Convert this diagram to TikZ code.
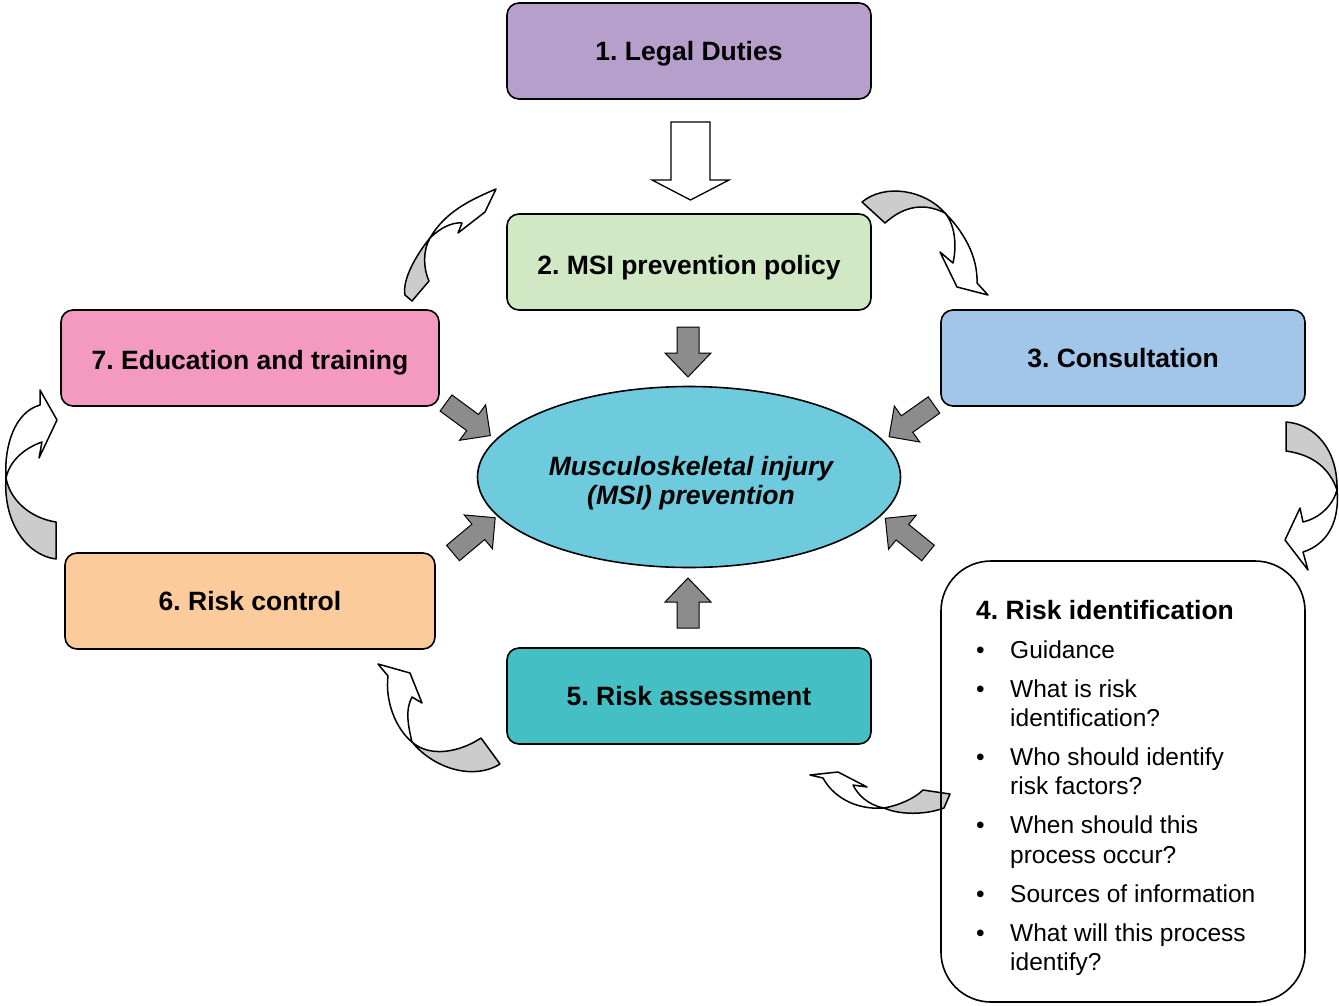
\documentclass[tikz,border=0pt]{standalone}
\usepackage{fontspec}
\setmainfont{Liberation Sans}
\usetikzlibrary{shapes.geometric}
\definecolor{cLegal}{HTML}{B79FCB}
\definecolor{cPolicy}{HTML}{D1E8C4}
\definecolor{cConsult}{HTML}{A2C6EA}
\definecolor{cEdu}{HTML}{F49AC1}
\definecolor{cControl}{HTML}{FCCB9C}
\definecolor{cAssess}{HTML}{44C0C4}
\definecolor{cCore}{HTML}{6DCBDD}
\definecolor{cBlock}{HTML}{8C8C8C}
\definecolor{cBack}{HTML}{CCCCCC}
\frenchspacing
\begin{document}
\begin{tikzpicture}[x=1pt,y=-1pt,
  stepbox/.style={draw, line width=1.6pt, rounded corners=12pt,
    minimum width=364pt, minimum height=96pt, inner sep=0pt,
    text height=19pt, text depth=0pt,
    font=\fontsize{26.5}{29}\selectfont\bfseries},
  itemtext/.style={anchor=base west, inner sep=0pt,
    font=\fontsize{24.5}{29}\selectfont},
  dot/.style={anchor=base west, inner sep=0pt,
    font=\fontsize{24.5}{29}\selectfont},
  blockarrow/.style={draw, line width=1pt, fill=cBlock, line join=miter},
  hollowarrow/.style={draw, line width=1.3pt, fill=white},
  turnfront/.style={draw, line width=1.5pt, fill=white, line join=round},
  turnback/.style={draw, line width=1.5pt, fill=cBack, line join=round}]

\useasboundingbox (0,0) rectangle (1339,1005);

% ---- step boxes ----
\node[stepbox, fill=cLegal] (legal) at (689,51) {1. Legal Duties};
\node[stepbox, fill=cPolicy] (policy) at (689,262) {\raisebox{-3pt}{2. MSI prevention policy}};
\node[stepbox, fill=cConsult] (consult) at (1123,358) {3. Consultation};
\node[stepbox, fill=cEdu, minimum width=378pt] (edu) at (250,358) {\raisebox{-2pt}{7. Education and training}};
\node[stepbox, fill=cControl, minimum width=370pt] (control) at (250,601) {6. Risk control};
\node[stepbox, fill=cAssess] (assess) at (689,696) {5. Risk assessment};

% ---- central ellipse ----
\node[ellipse, draw, line width=1.6pt, fill=cCore, minimum width=423pt,
  minimum height=181pt, inner sep=0pt] (core) at (689,477) {};
\node[align=center, inner sep=0pt,
  font=\fontsize{26.5}{29}\selectfont\bfseries\itshape] (coretext) at (691,483)
  {Musculoskeletal injury\\(MSI) prevention};

% ---- hollow arrow: legal duties to policy ----
\draw[hollowarrow, shift={(690.5,122)}, rotate=-90]
  (0,-19.5) -- (58,-19.5) -- (58,-38.5) -- (78,0) -- (58,38.5) -- (58,19.5) -- (0,19.5) -- cycle;

% ---- grey block arrows into the ellipse ----
\draw[blockarrow, shift={(688,327)}, rotate=-90]
  (0,-11) -- (26,-11) -- (26,-23) -- (50,0) -- (26,23) -- (26,11) -- (0,11) -- cycle;
\draw[blockarrow, shift={(688,628)}, rotate=90]
  (0,-11) -- (26,-11) -- (26,-23) -- (50,0) -- (26,23) -- (26,11) -- (0,11) -- cycle;
\draw[blockarrow, shift={(446,403)}, rotate=-36.3]
  (0,-10) -- (33,-10) -- (33,-22) -- (55,0) -- (33,22) -- (33,10) -- (0,10) -- cycle;
\draw[blockarrow, shift={(934,405)}, rotate=-144.8]
  (0,-10) -- (33,-10) -- (33,-22) -- (55,0) -- (33,22) -- (33,10) -- (0,10) -- cycle;
\draw[blockarrow, shift={(453,553)}, rotate=39.9]
  (0,-10) -- (33,-10) -- (33,-22) -- (55,0) -- (33,22) -- (33,10) -- (0,10) -- cycle;
\draw[blockarrow, shift={(928,553)}, rotate=140.9]
  (0,-10) -- (33,-10) -- (33,-22) -- (55,0) -- (33,22) -- (33,10) -- (0,10) -- cycle;

% ---- curved arrows around the cycle ----
% 7 -> 2
\draw[turnback] (430,238) .. controls (416,255) and (402,280) .. (405,295)
  -- (412,301) -- (429,281) .. controls (423,268) and (423,250) .. (430,238) -- cycle;
\draw[turnfront] (430,238) .. controls (440,228) and (452,222) .. (462,223)
  -- (458,233) -- (485,212) -- (496,189) .. controls (470,200) and (445,212) .. (430,238) -- cycle;
% 2 -> 3
\draw[turnback] (862,202) .. controls (885,183) and (925,190) .. (945,213)
  .. controls (925,203) and (905,205) .. (885,223) -- cycle;
\draw[turnfront] (945,213) .. controls (962,230) and (978,255) .. (977,283)
  -- (988,295) -- (957,287) -- (940,252) -- (953,263)
  .. controls (957,245) and (955,225) .. (945,213) -- cycle;
% 3 -> 4
\draw[turnback] (1286,422) .. controls (1315,424) and (1338,450) .. (1337,490)
  .. controls (1330,470) and (1315,455) .. (1286,451) -- cycle;
\draw[turnfront] (1337,490) .. controls (1333,505) and (1320,518) .. (1303,522)
  -- (1300,508) -- (1285,540) -- (1308,570) -- (1303,552)
  .. controls (1325,545) and (1340,525) .. (1337,490) -- cycle;
% 4 -> 5
\draw[turnback] (884,808) .. controls (900,805) and (915,798) .. (923,790)
  -- (950,794) -- (944,808) .. controls (925,815) and (900,815) .. (884,808) -- cycle;
\draw[turnfront] (884,808) .. controls (868,805) and (858,795) .. (853,785)
  -- (867,787) -- (838,772) -- (810,775) -- (823,778)
  .. controls (835,800) and (860,810) .. (884,808) -- cycle;
% 5 -> 6
\draw[turnback] (412,742) .. controls (430,758) and (460,752) .. (481,738)
  -- (500,764) .. controls (475,780) and (435,770) .. (412,742) -- cycle;
\draw[turnfront] (412,742) .. controls (408,725) and (405,710) .. (412,697)
  -- (422,703) -- (410,673) -- (378,664) -- (388,676)
  .. controls (385,700) and (395,728) .. (412,742) -- cycle;
% 6 -> 7
\draw[turnback] (6,478) .. controls (10,500) and (30,518) .. (56,522)
  -- (56,559) .. controls (25,555) and (3,520) .. (6,478) -- cycle;
\draw[turnfront] (6,478) .. controls (4,445) and (15,412) .. (40,405)
  -- (40,390) -- (57,420) -- (39,458) -- (42,442)
  .. controls (25,448) and (10,460) .. (6,478) -- cycle;

% ---- risk identification panel ----
\node[draw, line width=1.6pt, rounded corners=50pt, minimum width=364pt,
  minimum height=441pt, inner sep=0pt] (riskid) at (1123,781.5) {};
\node[anchor=base west, inner sep=0pt,
  font=\fontsize{26.5}{29}\selectfont\bfseries] (ridhead) at (976,619) {4. Risk identification};

\node[dot] (b1) at (976,658) {\textbullet};
\node[itemtext] (t1) at (1010,658) {Guidance};
\node[dot] (b2) at (976,697) {\textbullet};
\node[itemtext] (t2a) at (1010,697) {What is risk};
\node[itemtext] (t2b) at (1010,726) {identification?};
\node[dot] (b3) at (976,765) {\textbullet};
\node[itemtext] (t3a) at (1010,765) {Who should identify};
\node[itemtext] (t3b) at (1010,794) {risk factors?};
\node[dot] (b4) at (976,833) {\textbullet};
\node[itemtext] (t4a) at (1010,833) {When should this};
\node[itemtext] (t4b) at (1010,863) {process occur?};
\node[dot] (b5) at (976,902) {\textbullet};
\node[itemtext] (t5) at (1010,902) {Sources of information};
\node[dot] (b6) at (976,941) {\textbullet};
\node[itemtext] (t6a) at (1010,941) {What will this process};
\node[itemtext] (t6b) at (1010,970) {identify?};

\end{tikzpicture}
\end{document}
